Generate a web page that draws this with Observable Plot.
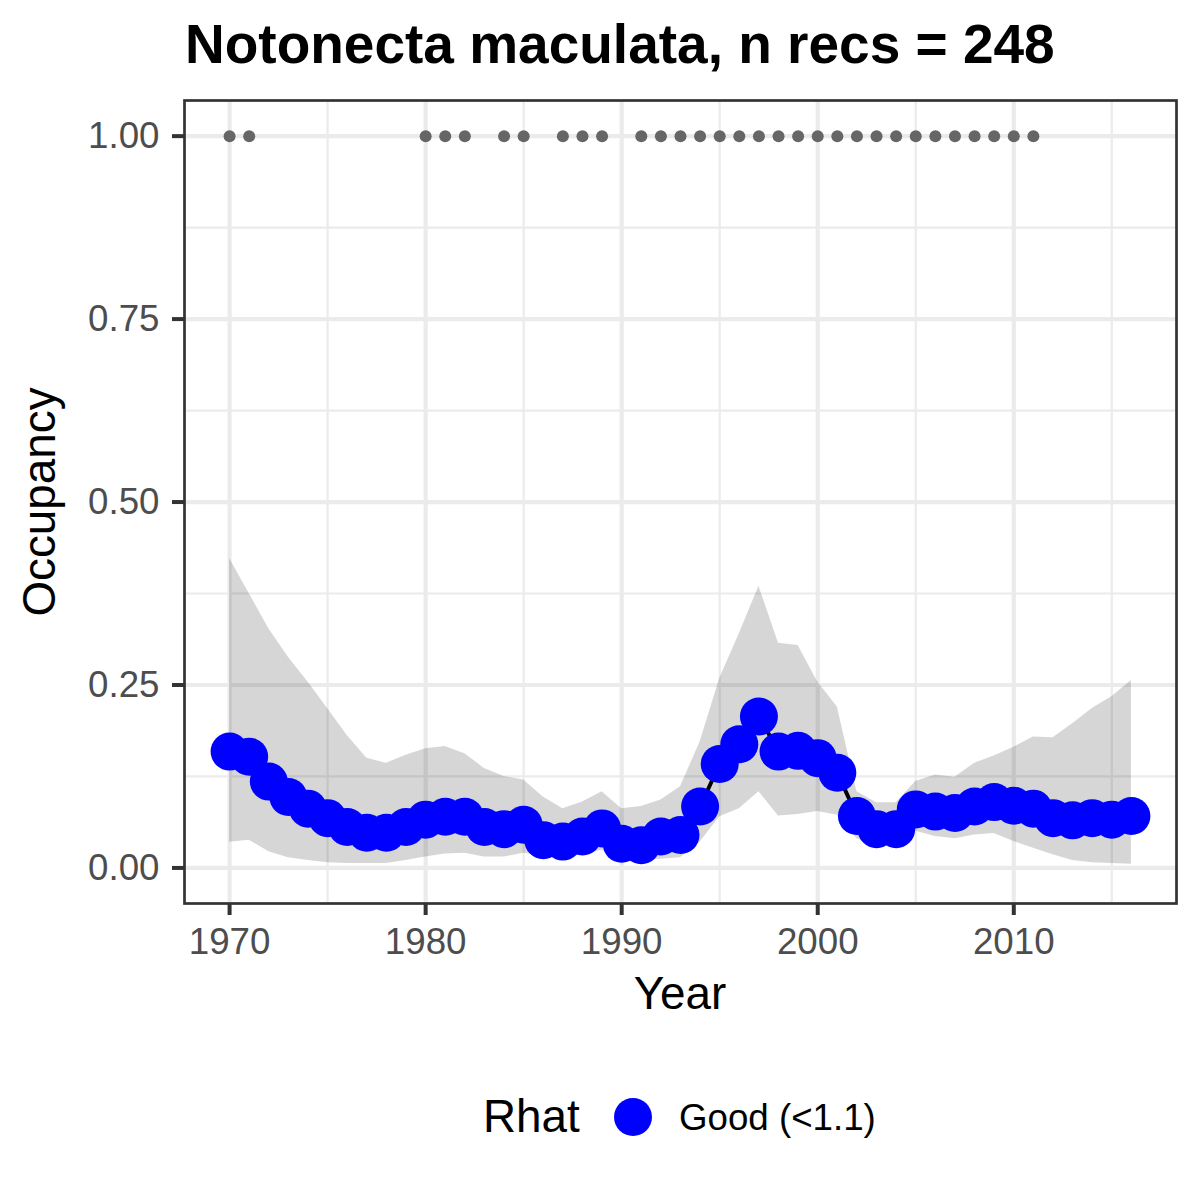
<!DOCTYPE html>
<html>
<head>
<meta charset="utf-8">
<script src="https://cdn.jsdelivr.net/npm/d3@7"></script>
<script src="https://cdn.jsdelivr.net/npm/@observablehq/plot@0.6"></script>
<style>
  body { margin: 0; background: #ffffff; }
  #wrap { position: relative; width: 1200px; height: 1200px; background: #ffffff;
          font-family: "Liberation Sans", Arial, sans-serif; color: #000; }
  .t { position: absolute; white-space: nowrap; }
  #chart { position: absolute; left: 0; top: 90px; }
</style>
</head>
<body>
<div id="wrap">
  <div class="t" id="title" style="left:185px; top:17px; font-size:55px; line-height:55px; font-weight:bold;">Notonecta maculata, n recs = 248</div>
  <div id="chart"></div>
  <div class="t" id="ylab" style="left:39.5px; top:501.5px; font-size:45.8px; line-height:45.8px; transform: translate(-50%,-50%) rotate(-90deg);">Occupancy</div>
  <div class="t" id="xlab" style="left:680px; top:971px; font-size:45.8px; line-height:45.8px; transform: translateX(-50%);">Year</div>
  <div class="t" id="legtitle" style="left:483px; top:1094.2px; font-size:45.8px; line-height:45.8px;">Rhat</div>
  <div class="t" id="legkey" style="left:614px; top:1098px; width:38px; height:38px; border-radius:50%; background:#0000ff;"></div>
  <div class="t" id="legtext" style="left:679px; top:1099.9px; font-size:36.7px; line-height:36.7px;">Good (&lt;1.1)</div>
</div>
<script>
const years = [1970,1971,1972,1973,1974,1975,1976,1977,1978,1979,
               1980,1981,1982,1983,1984,1985,1986,1987,1988,1989,
               1990,1991,1992,1993,1994,1995,1996,1997,1998,1999,
               2000,2001,2002,2003,2004,2005,2006,2007,2008,2009,
               2010,2011,2012,2013,2014,2015,2016];
const occupancy = [0.159,0.152,0.118,0.097,0.081,0.068,0.056,0.048,0.048,0.056,
                   0.066,0.070,0.070,0.056,0.053,0.059,0.038,0.036,0.043,0.054,
                   0.033,0.031,0.043,0.045,0.084,0.142,0.169,0.207,0.159,0.160,
                   0.150,0.130,0.071,0.053,0.053,0.080,0.077,0.075,0.084,0.090,
                   0.085,0.081,0.068,0.065,0.068,0.066,0.071];
const lower = [0.035,0.038,0.022,0.014,0.010,0.007,0.006,0.006,0.006,0.010,
               0.015,0.019,0.020,0.015,0.015,0.020,0.016,0.014,0.018,0.024,
               0.012,0.011,0.012,0.014,0.035,0.070,0.081,0.104,0.071,0.073,
               0.077,0.072,0.040,0.030,0.030,0.050,0.043,0.040,0.045,0.047,
               0.036,0.027,0.018,0.010,0.007,0.006,0.005];
const upper = [0.423,0.375,0.327,0.288,0.254,0.218,0.181,0.150,0.143,0.154,
               0.163,0.166,0.156,0.136,0.125,0.120,0.097,0.081,0.090,0.104,
               0.081,0.084,0.093,0.111,0.172,0.259,0.320,0.385,0.307,0.304,
               0.254,0.220,0.104,0.089,0.089,0.118,0.127,0.124,0.143,0.153,
               0.165,0.179,0.178,0.197,0.218,0.234,0.256];
const recordYears = [1970,1971,1980,1981,1982,1984,1985,1987,1988,1989,
                     1991,1992,1993,1994,1995,1996,1997,1998,1999,2000,
                     2001,2002,2003,2004,2005,2006,2007,2008,2009,2010,2011];
const recordValue = 1;
const xTicks = [1970,1980,1990,2000,2010];
const xMinor = [1975,1985,1995,2005,2015];
const yTicks = [0,0.25,0.5,0.75,1];
const yMinor = [0.125,0.375,0.625,0.875];

const rows = years.map((year, i) => ({year, occ: occupancy[i], lo: lower[i], hi: upper[i]}));

const chart = Plot.plot({
  width: 1200,
  height: 960,
  marginTop: 10,
  marginBottom: 147,
  marginLeft: 184,
  marginRight: 24,
  style: {fontFamily: "'Liberation Sans', Arial, sans-serif", background: "#ffffff", overflow: "visible"},
  x: {domain: [1967.7, 2018.3], axis: null},
  y: {domain: [-0.0486, 1.0487], axis: null},
  marks: [
    Plot.gridX(xMinor, {stroke: "#ebebeb", strokeOpacity: 1, strokeWidth: 2.2}),
    Plot.gridY(yMinor, {stroke: "#ebebeb", strokeOpacity: 1, strokeWidth: 2.2}),
    Plot.gridX(xTicks, {stroke: "#ebebeb", strokeOpacity: 1, strokeWidth: 4.2}),
    Plot.gridY(yTicks, {stroke: "#ebebeb", strokeOpacity: 1, strokeWidth: 4.2}),
    Plot.areaY(rows, {x: "year", y1: "lo", y2: "hi", fill: "#000000", fillOpacity: 0.16}),
    Plot.line(rows, {x: "year", y: "occ", stroke: "#000000", strokeWidth: 4}),
    Plot.dot(rows, {x: "year", y: "occ", r: 19, fill: "#0000ff"}),
    Plot.dot(recordYears, {x: d => d, y: () => recordValue, r: 6, fill: "#666666"}),
    Plot.frame({stroke: "#333333", strokeWidth: 2.7}),
    Plot.axisX(xTicks, {tickSize: 12, tickPadding: 12, fontSize: 36.7, fill: "#4d4d4d", stroke: "#333333", strokeWidth: 4, tickFormat: d => String(d), label: null}),
    Plot.axisY(yTicks, {tickSize: 12, tickPadding: 13, fontSize: 36.7, fill: "#4d4d4d", stroke: "#333333", strokeWidth: 4, tickFormat: d => d.toFixed(2), label: null})
  ]
});
document.getElementById("chart").appendChild(chart);
</script>
</body>
</html>
